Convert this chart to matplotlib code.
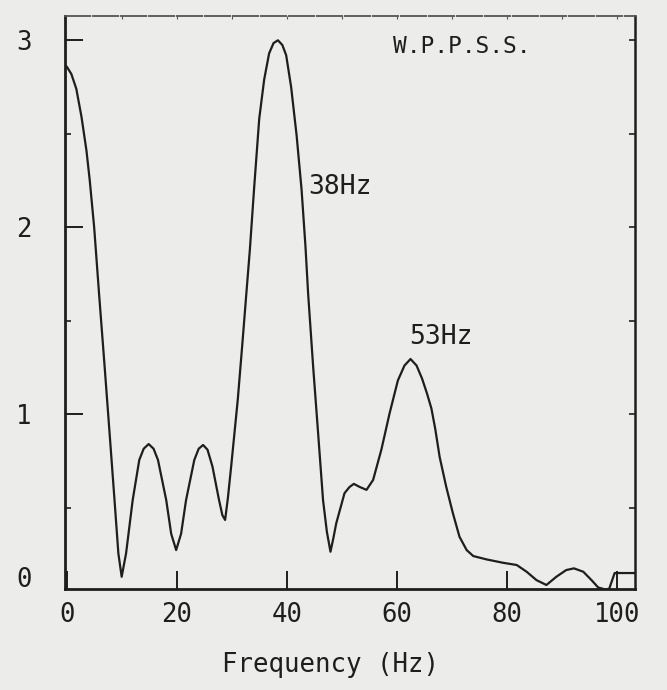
import matplotlib
matplotlib.use("Agg")
import matplotlib.pyplot as plt
import matplotlib.transforms as mtransforms

# ---- data ----
freq_hz = [0.0, 0.85, 1.76, 2.7, 3.6, 4.2, 5.0, 5.9, 6.9, 7.8, 8.7, 9.4, 10.0, 10.8,
           12.0, 13.2, 14.0, 14.9, 15.8, 16.6, 18.1, 19.0, 19.9, 20.8, 21.7, 23.2,
           24.0, 24.8, 25.6, 26.5, 27.7, 28.3, 28.8, 29.3, 29.9, 31.1, 32.0, 32.7,
           33.3, 34.1, 35.0, 35.9, 36.8, 37.6, 38.4, 39.2, 39.9, 40.8, 41.8, 42.7,
           43.4, 43.9, 44.8, 45.7, 46.6, 47.3, 47.95, 48.5, 49.0, 50.5, 51.4, 52.2,
           53.3, 54.5, 55.7, 57.2, 58.7, 60.2, 61.4, 62.5, 63.6, 64.6, 65.5, 66.3,
           67.0, 67.8, 69.0, 70.2, 71.4, 72.7, 73.9, 76.3, 79.3, 81.8, 83.6, 85.4,
           87.2, 89.0, 90.8, 92.2, 93.9, 95.4, 96.6, 97.8, 98.6, 99.6, 103.3]
amplitude = [2.86, 2.82, 2.74, 2.59, 2.41, 2.25, 2.00, 1.64, 1.255, 0.90, 0.54, 0.255,
             0.13, 0.255, 0.54, 0.755, 0.815, 0.84, 0.815, 0.755, 0.54, 0.36, 0.273,
             0.36, 0.54, 0.755, 0.815, 0.835, 0.81, 0.72, 0.54, 0.46, 0.434, 0.55,
             0.72, 1.077, 1.40, 1.66, 1.88, 2.22, 2.58, 2.79, 2.93, 2.985, 3.0,
             2.975, 2.92, 2.75, 2.49, 2.20, 1.90, 1.64, 1.255, 0.90, 0.54, 0.37,
             0.264, 0.34, 0.416, 0.577, 0.61, 0.627, 0.61, 0.595, 0.648, 0.81, 1.005,
             1.18, 1.26, 1.295, 1.26, 1.19, 1.11, 1.03, 0.92, 0.77, 0.61, 0.47,
             0.344, 0.273, 0.241, 0.223, 0.205, 0.193, 0.157, 0.112, 0.086, 0.13,
             0.166, 0.175, 0.157, 0.112, 0.073, 0.063, 0.065, 0.15, 0.15]

x_tick_values = [0, 20, 40, 60, 80, 100]
x_tick_labels = ["0", "20", "40", "60", "80", "100"]
y_tick_values = [1, 2, 3]
y_tick_labels = ["1", "2", "3"]
y_zero_label = "0"
peak_labels = ["38Hz", "53Hz"]
peak_label_x = [43.9, 62.2]
peak_label_y = [2.215, 1.414]
plant_label = "W.P.P.S.S."
x_axis_label = "Frequency (Hz)"

# ---- styling ----
BG = "#ececea"
INK = "#1e1e1e"
FONT = "DejaVu Sans Mono"

fig = plt.figure(figsize=(6.67, 6.90), dpi=100, facecolor=BG)
ax = fig.add_axes([65 / 667, 1 - 589.3 / 690, 570 / 667, 573.3 / 690], facecolor=BG)

ax.plot(freq_hz, amplitude, color=INK, lw=1.6, solid_joinstyle="round",
        solid_capstyle="round")

ax.set_xlim(-0.3, 103.3)
ax.set_ylim(0.063, 3.13)

ax.set_xticks(x_tick_values)
ax.set_xticklabels(x_tick_labels, fontfamily=FONT, fontsize=18.5, color=INK)
ax.set_yticks(y_tick_values)
ax.set_yticklabels(y_tick_labels, fontfamily=FONT, fontsize=18.5, color=INK)
ax.set_yticks([0.5, 1.5, 2.5], minor=True)

ax.tick_params(axis="x", which="major", direction="in", length=13, width=1.4,
               pad=9, colors=INK, top=False)
ax.tick_params(axis="y", which="major", direction="in", length=13, width=1.4,
               pad=24, colors=INK, right=False)
ax.tick_params(axis="y", which="minor", direction="in", length=4, width=1.2,
               colors=INK, right=False)

# right-hand axis ticks: short marks at every 0.5
axr = ax.secondary_yaxis("right")
axr.set_yticks([0.5, 1.0, 1.5, 2.0, 2.5, 3.0])
axr.tick_params(direction="in", length=4.5, width=1.2, colors=INK, labelright=False)
axr.spines["right"].set_visible(False)

# top axis small marks
axt = ax.secondary_xaxis("top")
axt.set_xticks([10, 20, 30, 40, 50, 60, 70, 80, 90, 100])
axt.tick_params(direction="in", length=2.5, width=0.8, colors="#555555",
                labeltop=False)
axt.spines["top"].set_visible(False)

# "0" label of the vertical axis, printed just above the frame bottom
trans = mtransforms.blended_transform_factory(ax.transAxes, ax.transData)
ax.text(-0.058, 0.112, y_zero_label, transform=trans, ha="right", va="center",
        fontfamily=FONT, fontsize=18.5, color=INK)

for s in ["left", "bottom", "right"]:
    ax.spines[s].set_color(INK)
ax.spines["left"].set_linewidth(2.0)
ax.spines["bottom"].set_linewidth(2.0)
ax.spines["right"].set_linewidth(1.8)
ax.spines["top"].set_linewidth(1.3)
ax.spines["top"].set_color("#555555")
ax.spines["top"].set_linestyle((0, (14, 1.5)))

for lab, lx, ly in zip(peak_labels, peak_label_x, peak_label_y):
    ax.text(lx, ly, lab, ha="left", va="center", fontfamily=FONT, fontsize=19,
            color=INK)

ax.text(59.4, 2.965, plant_label, ha="left", va="center", fontfamily=FONT,
        fontsize=16.5, color=INK)

ax.set_xlabel(x_axis_label, fontfamily=FONT, fontsize=18.5, color=INK)
ax.xaxis.set_label_coords((330 - 65) / 570, -(665 - 589.3) / 573.3)
ax.xaxis.label.set_va("center")

fig.savefig("out.png", dpi=100, facecolor=BG)
